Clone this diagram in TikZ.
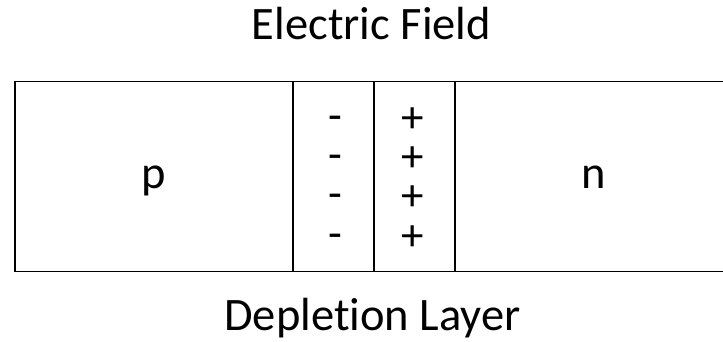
\documentclass[tikz,border=0pt]{standalone}
\usepackage{fontspec}
\setmainfont[Ligatures=CommonOff]{Carlito}
\begin{document}
\begin{tikzpicture}[x=1pt,y=-1pt,
  lbl/.style={inner sep=0pt,anchor=base,font=\fontsize{46.5}{50}\selectfont},
  sgn/.style={inner sep=0pt,anchor=base,align=center,font=\fontsize{45}{39.3}\selectfont},
  wall/.style={line width=1.8pt}]
\useasboundingbox (0,0) rectangle (723,342);
\draw[wall] (15,81.5) rectangle (730,271.5);
\coordinate (t1) at (293,81.5); \coordinate (b1) at (293,271.5);
\coordinate (t2) at (374,81.5); \coordinate (b2) at (374,271.5);
\coordinate (t3) at (455,81.5); \coordinate (b3) at (455,271.5);
\draw[wall] (t1) -- (b1);
\draw[wall] (t2) -- (b2);
\draw[wall] (t3) -- (b3);
\node[lbl] (ef) at (371.5,40) {Electric Field};
\node[lbl] (dl) at (372.5,330) {Depletion Layer};
\node[lbl] (p) at (154,189) {p};
\node[lbl] (n) at (593.5,189) {n};
\node[sgn] (minus) at (335,248) {-\\-\\-\\-};
\node[sgn] (plus) at (413,250) {+\\+\\+\\+};
\end{tikzpicture}
\end{document}
